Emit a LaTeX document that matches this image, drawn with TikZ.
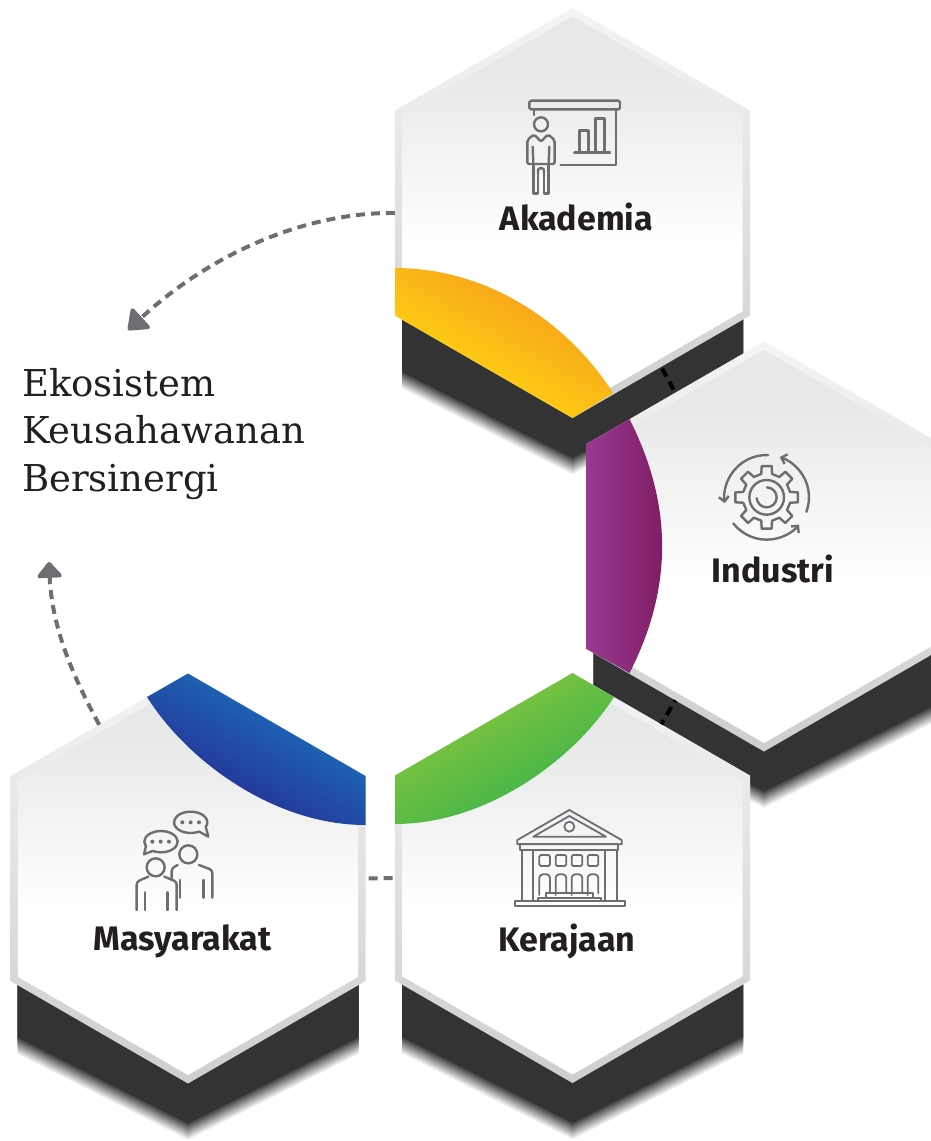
\documentclass[tikz,border=0pt]{standalone}
\usepackage{fontspec}
\usetikzlibrary{shapes.geometric, arrows.meta, shadings}
\newfontfamily\labelfont{Fira Sans}
\newfontfamily\titlefont{DejaVu Serif}

\definecolor{iconGray}{HTML}{6D6E71}
\definecolor{inkDark}{HTML}{231F20}
\definecolor{shadowDark}{HTML}{333333}
\definecolor{rimTop}{HTML}{F3F4F5}
\definecolor{rimBottom}{HTML}{CECECC}
\definecolor{faceTop}{HTML}{E7E8E8}

\pgfdeclareverticalshading{hexface}{100bp}{color(0bp)=(white); color(46bp)=(white); color(68bp)=(faceTop); color(100bp)=(faceTop)}
\pgfdeclareverticalshading{hexrim}{100bp}{color(0bp)=(rimBottom); color(25bp)=(rimBottom); color(75bp)=(rimTop); color(100bp)=(rimTop)}

\begin{document}
\begin{tikzpicture}[
    x=1pt, y=-1pt,
    hexouter/.style={regular polygon, regular polygon sides=6, regular polygon rotate=30, minimum size=410pt, inner sep=0pt, outer sep=0pt, shading=hexrim},
    hexinner/.style={regular polygon, regular polygon sides=6, regular polygon rotate=30, minimum size=393pt, inner sep=0pt, outer sep=0pt, shading=hexface},
    hexlabel/.style={anchor=base, font=\labelfont\bfseries\fontsize{34}{34}\selectfont, text=inkDark, inner sep=0pt},
    flow/.style={draw=iconGray, line width=4pt, dash pattern=on 9pt off 6pt, -{Triangle[length=20pt, width=30pt, round]}},
    link/.style={line width=4pt, dash pattern=on 9pt off 6pt},
    icon/.style={draw=iconGray, line width=2.4pt, line join=round, line cap=round}
]
\clip (0,0) rectangle (931,1141);

% hexagons, back to front
\foreach \hexname/\cx/\cy in {akademia/572.5/213, industri/764/546.5, kerajaan/572.5/878, masyarakat/188/878.5} {
    \foreach \s in {18,16,...,0} {
        \pgfmathtruncatemacro{\p}{100-100*\s/18}
        \fill[shadowDark!\p!white] (\cx-170.5,\cy+100) -- (\cx-170.5,\cy+159+\s) -- (\cx,\cy+245+\s) -- (\cx+170.5,\cy+159+\s) -- (\cx+170.5,\cy+100) -- cycle;
    }
    \node (\hexname) at (\cx,\cy) [hexouter] {};
    \node (\hexname Face) at (\cx,\cy) [hexinner] {};
}

% coloured caps
\shade[top color={rgb,255:red,246;green,150;blue,30}, bottom color={rgb,255:red,255;green,225;blue,15}, shading angle=-30]
    (395,268) .. controls (490,268) and (570,325) .. (613,393) -- (572.5,418) -- (395,315.5) -- cycle;
\shade[left color={rgb,255:red,150;green,58;blue,145}, right color={rgb,255:red,125;green,25;blue,95}]
    (629.5,419) .. controls (673,505) and (673,588) .. (629.5,673) -- (586.5,649) -- (586.5,444) -- cycle;
\shade[top color={rgb,255:red,146;green,200;blue,60}, bottom color={rgb,255:red,50;green,178;blue,75}, shading angle=30]
    (395,824) .. controls (485,824) and (572,762) .. (614,697) -- (572.5,673) -- (395,775.5) -- cycle;
\shade[top color={rgb,255:red,25;green,125;blue,195}, bottom color={rgb,255:red,40;green,35;blue,140}, shading angle=-30]
    (365.5,825) .. controls (275,825) and (188,762) .. (147,697) -- (188,673.5) -- (365.5,776) -- cycle;

% connectors
\coordinate (tipTop) at (128,330);
\coordinate (tipLeft) at (49,562);
\draw[flow] (akademia.180) .. controls (310,212) and (215,250) .. (tipTop);
\draw[flow, -{Triangle[length=17pt, width=28pt, round]}] (masyarakat.120) .. controls (75,680) and (52,630) .. (tipLeft);
\draw[link, draw=iconGray, dash phase=12pt] (masyarakat.0) -- (kerajaan.180);
\draw[link, draw=black, dash phase=13pt] (akademia.-60) -- (industri.120);
\draw[link, draw=black, dash phase=7pt] (industri.240) -- (kerajaan.60);

% labels
\node (akademiaLabel) at (576.5,230) [hexlabel] {Akademia};
\node (industriLabel) at (773,582) [hexlabel] {Industri};
\node (kerajaanLabel) at (567,951) [hexlabel] {Kerajaan};
\node (masyarakatLabel) at (182.5,950) [hexlabel] {Masyarakat};

\node (title) at (22,368) [anchor=north west, inner sep=0pt, align=left, text=inkDark, font=\titlefont\fontsize{37}{47.5}\selectfont] {Ekosistem\\Keusahawanan\\Bersinergi};

% presenter icon
\begin{scope}[shift={(510,90)}, x=0.3333pt, y=-0.3333pt, icon]
\draw[rounded corners=1.5pt] (58,32) rectangle (330,58);
\draw (72,58) -- (72,75);
\draw (318,58) -- (318,225) -- (152,225);
\draw (193,187) -- (300,187);
\draw (208,187) -- (208,122) -- (235,122) -- (235,187);
\draw (257,187) -- (257,85) -- (284,85) -- (284,187);
\draw (93,103) circle [radius=21];
\draw[rounded corners=2pt] (70,222) -- (52,222) -- (52,150) -- (72,133) -- (93,155) -- (114,133) -- (134,150) -- (134,222) -- (116,222);
\draw (68,170) -- (70,222) -- (116,222) -- (118,170);
\draw (70,222) -- (70,310) -- (84,310) -- (84,250);
\draw[rounded corners=2pt] (84,250) -- (84,235) -- (102,235) -- (102,250);
\draw (102,250) -- (102,310) -- (116,310) -- (116,222);
\end{scope}

% gear icon
\begin{scope}[shift={(710,445)}, x=0.3333pt, y=-0.3333pt, icon]
\coordinate (gearHub) at (170,157);
\draw ([shift={(-9:95)}]gearHub)
    \foreach \a in {0,45,...,315} { -- ([shift={(\a-9:95)}]gearHub) -- ([shift={(\a+9:95)}]gearHub) -- ([shift={(\a+13:72)}]gearHub) -- ([shift={(\a+32:72)}]gearHub) } -- cycle;
\draw (gearHub) circle [radius=52];
\draw ([shift={(-88:30)}]gearHub) arc [start angle=-88, end angle=175, radius=30];
\draw[-{Straight Barb[length=5pt, width=10pt]}] ([shift={(-88:127)}]gearHub) arc [start angle=-88, end angle=-188, radius=127];
\draw[-{Straight Barb[length=5pt, width=10pt]}] ([shift={(142:127)}]gearHub) arc [start angle=142, end angle=40, radius=127];
\draw[-{Straight Barb[length=5pt, width=10pt]}] ([shift={(20:127)}]gearHub) arc [start angle=20, end angle=-72, radius=127];
\end{scope}

% people icon
\begin{scope}[shift={(125,805)}, x=0.3333pt, y=-0.3333pt, icon]
\draw (197,52) ++(60:50 and 32) arc [start angle=60, end angle=385, x radius=50, y radius=32] -- (250,95) -- cycle;
\draw (108,110) ++(155:50 and 32) arc [start angle=155, end angle=480, x radius=50, y radius=32] -- (57,148) -- cycle;
\foreach \dotx/\doty in {172/52, 197/52, 222/52, 82/110, 107/110, 132/110}
    \fill[iconGray] (\dotx,\doty) circle [radius=6];
\draw (92,187) circle [radius=27];
\draw[rounded corners=3pt] (70,215) -- (35,230) -- (35,315);
\draw[rounded corners=3pt] (118,215) -- (155,230) -- (155,315);
\draw (60,262) -- (60,315);
\draw (128,262) -- (128,315);
\draw (190,148) circle [radius=27];
\draw[rounded corners=3pt] (222,180) -- (262,195) -- (262,278);
\draw[rounded corners=3pt] (158,180) -- (140,190) -- (140,225);
\draw (165,225) -- (165,278);
\draw (235,225) -- (235,278);
\end{scope}

% building icon
\begin{scope}[shift={(510,805)}, x=0.3333pt, y=-0.3333pt, icon, line width=1.8pt]
\draw (22,105) -- (178,15) -- (335,105) -- (335,118) -- (22,118) -- cycle;
\draw (70,95) -- (178,33) -- (288,95) -- cycle;
\draw (178,65) circle [radius=15];
\draw (30,118) rectangle (325,135);
\draw (35,135) -- (35,287);
\draw (70,135) -- (70,287);
\draw (285,135) -- (285,287);
\draw (322,135) -- (322,287);
\foreach \winx in {88,137,185,233} {
    \draw[rounded corners=1.5pt] (\winx,150) rectangle (\winx+32,183);
    \draw[rounded corners=3.5pt] (\winx,270) -- (\winx,208) -- (\winx+32,208) -- (\winx+32,265);
}
\draw (15,287) rectangle (345,303);
\draw (85,278) rectangle (272,287);
\draw (108,265) rectangle (250,278);
\end{scope}

\end{tikzpicture}
\end{document}
